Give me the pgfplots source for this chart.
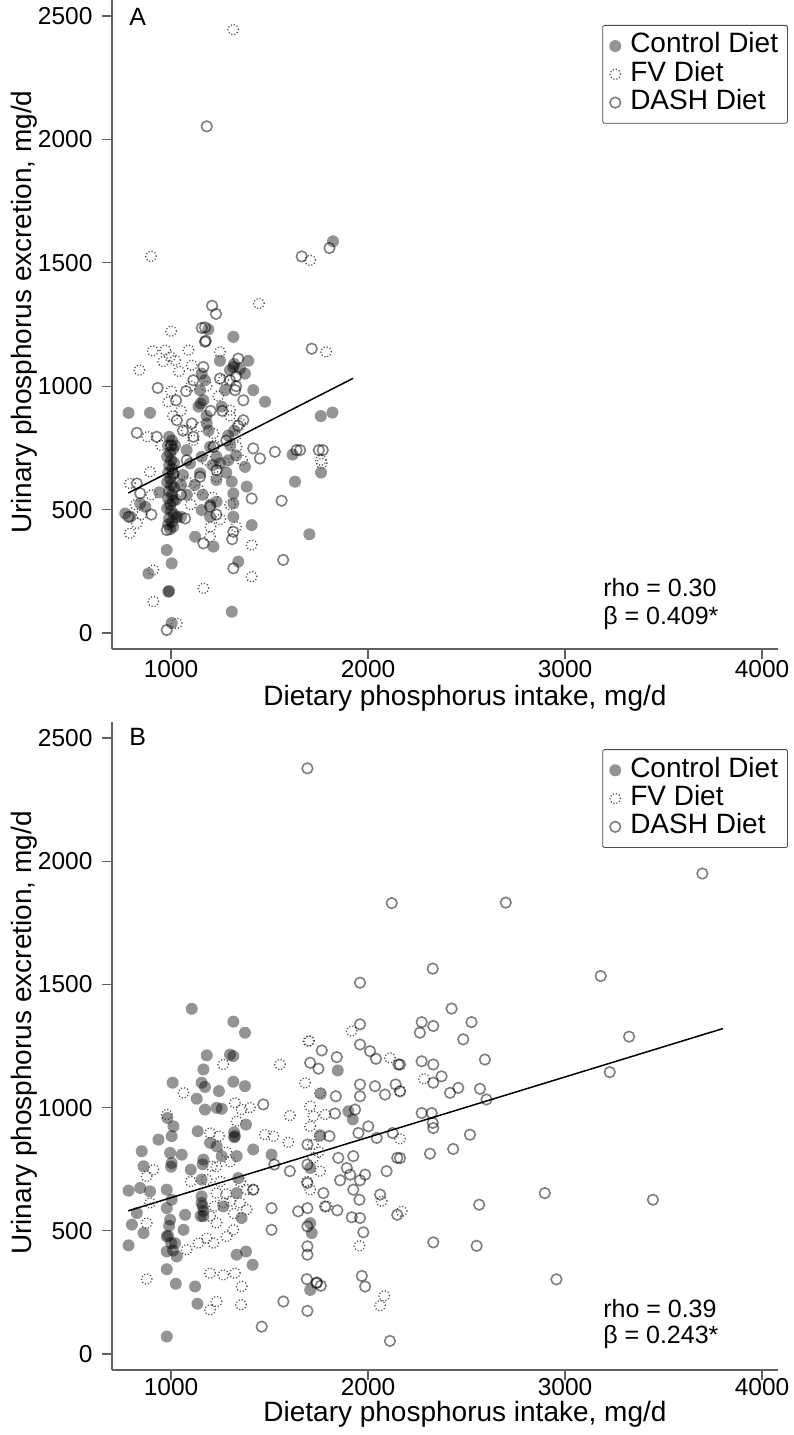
\documentclass[border=0pt]{standalone}
\usepackage{pgfplots}
\pgfplotsset{compat=1.18}
\usepackage{fontspec}
\setmainfont{Liberation Sans}

\pgfplotstableread{
x y
784 892
893 892
1316 1200
1189 1230
1248 1103
1316 1078
1392 1103
1375 1051
1417 984
1477 937
1760 879
1819 893
1761 650
1702 400
1629 613
1617 723
1822 1587
990 795
1005 780
985 760
1010 745
995 730
980 715
1000 700
1015 690
990 680
1005 665
985 650
1010 640
995 625
980 610
1000 600
1015 590
990 575
1005 560
985 545
1010 535
995 520
980 505
1000 495
1015 480
990 465
1005 450
985 440
1010 430
995 420
1020 760
1025 540
1030 470
978 336
1003 282
986 167
990 170
885 241
1003 40
1308 86
1122 390
1215 350
1341 289
1316 471
1316 525
1316 565
1308 613
1409 437
1384 593
1375 673
1198 471
1155 498
1231 532
1139 917
1164 943
1147 984
1172 1024
1155 1051
1299 1065
1274 984
1257 917
1248 687
1231 714
1198 754
1147 647
1155 714
1181 849
1096 687
1079 741
869 511
794 471
843 525
767 484
1180 880
1190 820
1210 680
1290 800
1300 760
1320 820
1280 650
1330 720
1230 620
1160 560
1200 520
1120 600
1060 640
1080 560
1050 470
1290 700
1150 930
1320 1090
1350 1070
1050 600
940 570
}\ctrlA

\pgfplotstableread{
x y
1446 1335
1315 2445
898 1526
1706 1510
1000 1223
839 1065
907 1143
970 1146
995 1119
1020 1105
1088 1146
1248 1139
1105 1085
1787 1139
986 937
880 795
791 606
791 404
826 444
910 255
910 127
1029 39
1164 181
1409 356
1409 228
1198 390
1012 640
893 653
1333 754
1350 849
1079 822
1113 781
1265 1024
1299 903
1147 835
1215 808
1079 613
1231 633
1765 687
960 1100
1040 1060
1180 1000
1240 960
1300 880
1330 800
1220 760
1180 700
1140 580
1300 520
1250 460
1330 430
1200 430
1100 520
950 760
900 560
820 520
850 480
1050 900
1010 880
1360 700
1270 690
1210 550
1760 700
1100 1000
1000 980
}\fvA

\pgfplotstableread{
x y
1181 2053
1663 1526
1804 1560
1208 1326
1228 1293
1156 1236
1176 1184
1714 1152
1172 1238
1172 1180
932 993
1076 980
1025 943
826 811
1341 1112
1367 862
1417 748
1451 707
1527 734
1637 741
1750 741
1561 536
1409 545
1569 296
1316 262
1316 410
1164 363
1071 464
978 417
978 12
843 566
826 606
784 471
927 795
1029 862
1113 1024
1248 1031
1299 1024
1367 943
1325 984
1164 1078
1113 795
1105 849
1215 754
1147 633
1231 660
1198 512
1012 647
1079 700
1655 741
1770 741
1330 1040
1260 900
1200 900
1060 820
1000 760
1280 780
1340 840
1310 380
1230 480
1050 560
900 480
1330 1000
}\dashA

\pgfplotstableread{
x y
1105 1401
1316 1349
1375 1304
1181 1212
1316 1209
1299 1215
1164 1155
1008 1101
1172 1084
1243 1067
1316 1105
1375 1087
1130 1036
1172 992
1231 999
1257 995
981 958
936 870
1012 924
1003 884
851 823
860 762
784 663
843 674
893 660
826 572
801 525
860 491
784 441
978 667
1003 626
978 592
995 545
978 477
978 416
1029 396
1003 775
995 816
1054 809
1100 748
1071 565
1063 504
1020 450
978 344
1024 285
1122 274
1134 204
978 71
1135 904
1164 789
1155 708
1155 640
1155 613
1164 559
1198 857
1231 843
1257 803
1324 884
1333 803
1341 714
1265 599
1333 653
1358 552
1417 830
1510 809
1333 403
1380 416
1414 362
1380 931
1155 1101
1846 1151
1760 1056
1900 985
1922 952
1756 888
1706 531
1714 491
1706 260
1706 755
1000 450
985 480
1010 420
1160 770
1165 580
1160 600
1320 900
1320 880
1000 760
990 520
1150 560
}\ctrlB

\pgfplotstableread{
x y
1265 1175
1553 1175
1701 1270
1063 1060
978 972
1603 968
1333 945
1358 992
1476 891
1519 884
1595 859
1198 897
1243 884
1206 762
1181 708
1231 653
1265 613
1198 559
1231 532
1181 470
1215 450
1079 423
1139 450
1282 477
1316 504
1350 613
1384 667
1417 667
1384 586
876 721
910 748
893 613
876 531
876 304
1198 328
1265 321
1324 328
1358 274
1231 213
1198 179
1355 200
1324 1019
1697 1270
1917 1311
2111 1202
2284 1117
2162 1067
1756 1060
1706 1006
1723 965
1782 972
1706 924
1756 884
2162 873
1756 742
1706 667
1790 599
2069 620
2171 579
1956 439
2082 236
2061 196
1723 796
1250 700
1280 650
1300 620
1230 760
1300 780
1280 820
1220 600
1320 570
1100 700
1350 700
1400 1000
1680 1100
1720 850
1750 820
1690 700
}\fvB

\pgfplotstableread{
x y
1692 2377
2120 1830
1959 1507
1959 1338
3697 1950
2699 1832
2328 1564
3181 1534
2424 1402
2272 1347
2331 1331
2525 1347
2263 1304
2483 1277
3325 1288
3227 1144
2593 1195
2272 1188
2331 1175
2373 1127
2458 1080
2416 1060
2568 1076
2601 1033
2272 978
2323 978
2331 917
2517 890
2432 832
2314 813
2897 653
3446 626
2564 606
2331 453
2551 439
2956 303
2162 1175
2162 1066
2162 795
1765 1232
1841 1205
1706 1182
1748 1158
1959 1256
2010 1229
2040 1198
2154 1175
2331 1101
1959 1094
1959 1046
2035 1087
2086 1053
2140 1094
1836 1046
1832 976
1934 992
2328 938
2001 924
1951 897
2044 877
2125 897
1804 884
2148 796
1925 803
1849 796
1892 755
1909 728
1858 705
1985 728
1959 705
1925 667
2094 742
2061 647
1956 626
1844 583
1917 555
1959 552
2148 565
1976 494
1968 317
1985 274
2111 53
1689 304
1740 290
1760 277
1692 175
1692 403
1692 437
1692 518
1692 592
1692 694
1773 653
1782 599
1692 850
1692 769
1510 504
1510 592
1570 213
1460 111
1603 742
1645 579
1468 1013
1524 769
1417 667
1738 288
}\dashB

\pgfplotstableread{
x y
782 567
1924 1032
}\fitA

\pgfplotstableread{
x y
782 581
3802 1321
}\fitB

\begin{document}
\begin{tikzpicture}[x=1pt,y=1pt]
\pgfplotsset{
 panel/.style={
  width=666pt, scale only axis,
  xmin=700, xmax=4081, ymin=-65, ymax=2565,
  axis lines*=left,
  axis line style={draw=black!62, line width=1.4pt},
  xtick={1000,2000,3000,4000}, ytick={0,500,1000,1500,2000,2500},
  tick align=outside, major tick length=10pt,
  tick style={draw=black!62, line width=1.2pt},
  ticklabel style={font=\fontsize{24.5}{28}\selectfont},
  yticklabel style={xshift=-6pt},
  xticklabel style={yshift=0pt, inner ysep=1pt},
  /pgf/number format/assume math mode=true,
  /pgf/number format/1000 sep={},
  label style={font=\fontsize{28}{32}\selectfont},
  xlabel={Dietary phosphorus intake, mg/d},
  ylabel={Urinary phosphorus excretion, mg/d},
  legend cell align=left,
  clip=false,
 },
 lgd/.style={legend style={at={(1.015,#1)}, anchor=north east, draw=black!70, line width=0.8pt, rounded corners=1.5pt,
    font=\fontsize{28}{28}\selectfont, inner xsep=6.5pt, inner ysep=6.5pt, row sep=0pt,
    /tikz/every odd column/.append style={column sep=6pt},
    nodes={inner ysep=1pt, inner xsep=3pt, text height=20pt, text depth=6.3pt}}},
 ctrl/.style={only marks, mark=*, mark size=6pt, mark options={draw opacity=0, line width=0pt, fill=black, fill opacity=0.42}},
 fv/.style={only marks, mark=o, mark size=5.3pt, mark options={draw=black!70, line width=1.3pt, dash pattern=on 1.1pt off 2.1pt, fill=none}},
 dsh/.style={only marks, mark=o, mark size=5.3pt, mark options={draw=black, draw opacity=0.5, line width=1.6pt, fill=none}},
 fit/.style={black, line width=1.5pt, no marks, forget plot},
}
\begin{axis}[panel, lgd=0.9615, at={(112pt,-649pt)}, anchor=south west, height=649pt,
  xlabel style={at={(axis description cs:0.53,-0.0875)}, anchor=base},
  ylabel style={at={(axis description cs:-0.1216,0.519)}, anchor=base},
]
\addplot[ctrl] table {\ctrlA};
\addlegendentry{Control Diet}
\addplot[fv] table {\fvA};
\addlegendentry{FV Diet}
\addplot[dsh] table {\dashA};
\addlegendentry{DASH Diet}
\addplot[fit] table {\fitA};
\node[anchor=west, inner sep=0pt, font=\fontsize{25}{25}\selectfont] at (axis cs:787,2498) {A};
\node[anchor=base west, inner sep=0pt, font=\fontsize{25}{25}\selectfont] at (axis cs:3193,146) {rho = 0.30};
\node[anchor=base west, inner sep=0pt, font=\fontsize{25}{25}\selectfont] at (axis cs:3193,36) {β = 0.409*};
\end{axis}
\begin{axis}[panel, lgd=0.958, at={(112pt,-1370pt)}, anchor=south west, height=648pt,
  xticklabel style={yshift=2pt, inner ysep=0.5pt},
  xlabel style={at={(axis description cs:0.53,-0.0795)}, anchor=base},
  ylabel style={at={(axis description cs:-0.1216,0.52)}, anchor=base},
]
\addplot[ctrl] table {\ctrlB};
\addlegendentry{Control Diet}
\addplot[fv] table {\fvB};
\addlegendentry{FV Diet}
\addplot[dsh] table {\dashB};
\addlegendentry{DASH Diet}
\addplot[fit] table {\fitB};
\node[anchor=west, inner sep=0pt, font=\fontsize{25}{25}\selectfont] at (axis cs:787,2504) {B};
\node[anchor=base west, inner sep=0pt, font=\fontsize{25}{25}\selectfont] at (axis cs:3193,150) {rho = 0.39};
\node[anchor=base west, inner sep=0pt, font=\fontsize{25}{25}\selectfont] at (axis cs:3193,41) {β = 0.243*};
\end{axis}
\pgfresetboundingbox
\path[use as bounding box] (0,0) rectangle (794,-1435);
\end{tikzpicture}
\end{document}
